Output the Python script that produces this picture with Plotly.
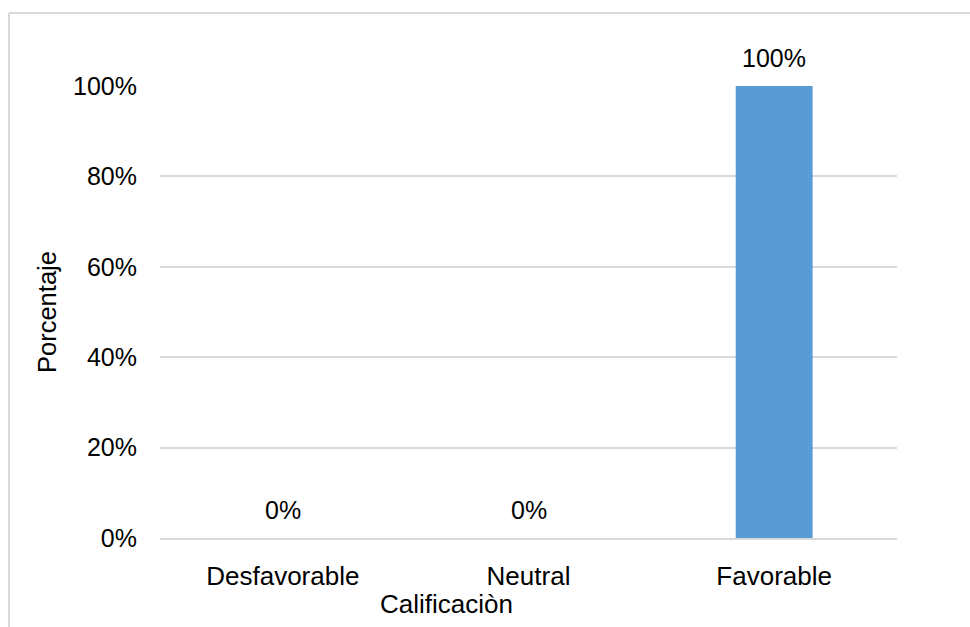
import plotly.graph_objects as go

# Rating categories and share of responses (percent)
categorias = ["Desfavorable", "Neutral", "Favorable"]
porcentajes = [0, 0, 100]
ticks_y = [0, 20, 40, 60, 80, 100]
etiquetas_y = [f"{v}%" for v in ticks_y]

FONT = "Liberation Sans, Arial, sans-serif"
GRID = "#d9d9d9"

fig = go.Figure(
    go.Bar(
        x=categorias,
        y=porcentajes,
        marker=dict(color="#5b9bd5", line=dict(width=0)),
        width=0.313,
        hoverinfo="x+y",
    )
)

# Value labels above each bar
for c, v in zip(categorias, porcentajes):
    fig.add_annotation(
        x=c, y=v, text=f"{v}%", showarrow=False,
        yanchor="bottom", yshift=12,
        font=dict(family=FONT, size=25, color="#000000"),
    )

# Axis titles
fig.add_annotation(
    xref="paper", yref="paper", x=(446 - 160) / 737, y=(538 - 604) / 452,
    text="Calificaciòn", showarrow=False, xanchor="center", yanchor="middle",
    font=dict(family=FONT, size=26, color="#000000"),
)
fig.add_annotation(
    xref="paper", yref="paper", x=(47 - 160) / 737, y=0.5,
    text="Porcentaje", showarrow=False, textangle=-90,
    xanchor="center", yanchor="middle",
    font=dict(family=FONT, size=25.5, color="#000000"),
)

# Chart-area frame (top and left edges)
x_left = (9 - 160) / 737
y_top = (538 - 13) / 452
fig.add_shape(type="line", xref="paper", yref="paper", x0=x_left, x1=1.2,
              y0=y_top, y1=y_top, line=dict(color=GRID, width=2))
fig.add_shape(type="line", xref="paper", yref="paper", x0=x_left, x1=x_left,
              y0=y_top, y1=-0.3, line=dict(color=GRID, width=2))

fig.update_layout(
    width=970, height=627,
    margin=dict(l=160, r=73, t=86, b=89),
    paper_bgcolor="white", plot_bgcolor="white",
    showlegend=False,
    font=dict(family=FONT, size=25, color="#000000"),
    xaxis=dict(
        showgrid=False, showline=True, linecolor=GRID, linewidth=2,
        ticks="", ticklabelstandoff=14,
        tickfont=dict(family=FONT, size=26, color="#000000"),
    ),
    yaxis=dict(
        range=[0, 100], tickvals=ticks_y, ticktext=etiquetas_y,
        showgrid=True, gridcolor=GRID, gridwidth=1.5,
        zeroline=False, showline=False, ticks="", ticklabelstandoff=22,
        tickfont=dict(family=FONT, size=25, color="#000000"),
    ),
)

fig.write_html("out.html")
